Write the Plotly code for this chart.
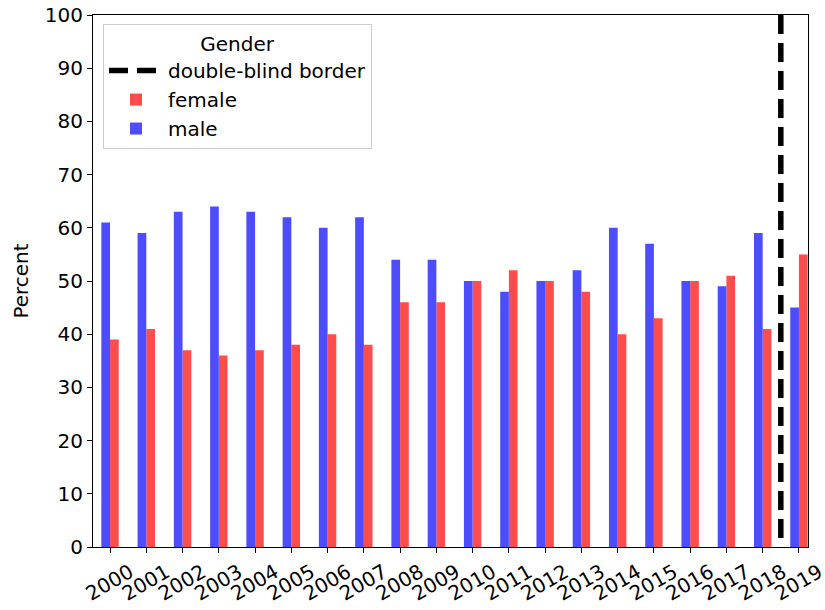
import plotly.graph_objects as go

years = [str(y) for y in range(2000, 2020)]
male = [61, 59, 63, 64, 63, 62, 60, 62, 54, 54, 50, 48, 50, 52, 60, 57, 50, 49, 59, 45]
female = [39, 41, 37, 36, 37, 38, 40, 38, 46, 46, 50, 52, 50, 48, 40, 43, 50, 51, 41, 55]
border_pos = 18.5
border_span = [100, 0]
y_ticks = list(range(0, 101, 10))

xpos = list(range(len(years)))
FS = 20
font = dict(family="DejaVu Sans", size=FS, color="black")

fig = go.Figure()
fig.add_trace(go.Scatter(
    x=[border_pos, border_pos], y=border_span, mode="lines",
    line=dict(color="black", width=5.5, dash="19px,9px"),
    name="double-blind border"))
fig.add_trace(go.Bar(
    x=xpos, y=female, name="female", width=0.24, offset=0.0,
    marker=dict(color="rgb(255,77,77)", line=dict(width=0))))
fig.add_trace(go.Bar(
    x=xpos, y=male, name="male", width=0.24, offset=-0.24,
    marker=dict(color="rgb(77,77,255)", line=dict(width=0))))

fig.update_layout(
    width=825, height=610,
    margin=dict(l=93, r=17, t=15, b=63, autoexpand=False),
    paper_bgcolor="white", plot_bgcolor="white",
    barmode="overlay",
    font=font,
    showlegend=True,
    legend=dict(
        x=0.014, y=0.983, xanchor="left", yanchor="top",
        bgcolor="white", bordercolor="#cccccc", borderwidth=1,
        font=dict(family="DejaVu Sans", size=FS),
        title=dict(text="Gender", side="top center", font=dict(family="DejaVu Sans", size=FS)),
        traceorder="normal", itemwidth=54, tracegroupgap=4,
    ),
)
fig.update_xaxes(
    range=[-0.47, 19.25], tickmode="array", tickvals=xpos, ticktext=years,
    tickangle=-30, ticks="outside", ticklen=5, tickcolor="black",
    showline=True, linecolor="black", linewidth=1.2, mirror=True,
    showgrid=False, zeroline=False, tickfont=font, ticklabelshift=20,
    automargin=False, ticklabeloverflow="allow",
)
fig.update_yaxes(
    range=[0, 100], tickmode="array", tickvals=y_ticks,
    ticks="outside", ticklen=5, tickcolor="black",
    showline=True, linecolor="black", linewidth=1.2, mirror=True,
    showgrid=False, zeroline=False, tickfont=font,
    title=dict(text="Percent", font=font, standoff=10),
    automargin=False, ticklabeloverflow="allow",
)
fig.write_html("out.html", config={"displayModeBar": False},
               post_script="document.body.style.margin='0';")
